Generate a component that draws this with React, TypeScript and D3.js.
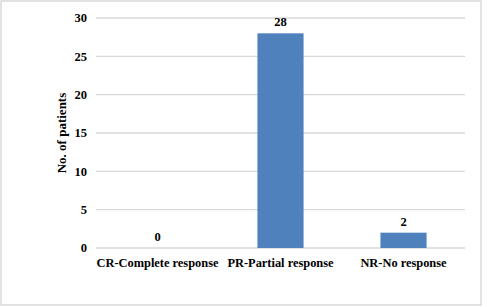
import React from "react";
import * as d3 from "d3";

const categories = ["CR-Complete response", "PR-Partial response", "NR-No response"];
const values = [0, 28, 2];
const yTicks = [0, 5, 10, 15, 20, 25, 30];
const yLabel = "No. of patients";

const W = 488;
const H = 307;
const m = { left: 96, right: 23, top: 18, bottom: 59 };
const FONT = "Liberation Serif";

const txt = (size: number): React.CSSProperties => ({
  fontFamily: FONT,
  fontWeight: "bold",
  fontSize: size,
});

export default function App() {
  const x = d3
    .scaleBand<string>()
    .domain(categories)
    .range([m.left, W - m.right])
    .paddingInner(0.625)
    .paddingOuter(0.3125);
  const y = d3.scaleLinear().domain([0, 30]).range([H - m.bottom, m.top]);

  return (
    <svg width={W} height={H} style={{ position: "absolute", left: 0, top: 0, background: "#fff" }}>
      <rect x={1} y={1} width={480} height={304} fill="#fff" stroke="#d9d9d9" strokeWidth={1.5} />
      {yTicks.map((t) => (
        <g key={t}>
          <line x1={m.left} x2={W - m.right} y1={y(t)} y2={y(t)} stroke="#d9d9d9" strokeWidth={1.3} />
          <text x={87} y={y(t)} dy="0.35em" textAnchor="end" style={txt(12.5)} fill="#000">
            {t}
          </text>
        </g>
      ))}
      {categories.map((c, i) => {
        const bx = x(c)!;
        const cx = bx + x.bandwidth() / 2;
        return (
          <g key={c}>
            {values[i] > 0 && (
              <rect x={bx} y={y(values[i])} width={x.bandwidth()} height={y(0) - y(values[i])} fill="#4f81bd" />
            )}
            <text x={cx} y={y(values[i]) - 7} textAnchor="middle" style={txt(12.5)} fill="#000">
              {values[i]}
            </text>
            <text x={cx} y={266.5} textAnchor="middle" style={txt(12.4)} fill="#000">
              {c}
            </text>
          </g>
        );
      })}
      <text
        transform={`translate(66,${(y(0) + y(30)) / 2}) rotate(-90)`}
        textAnchor="middle"
        style={txt(13)}
        fill="#000"
      >
        {yLabel}
      </text>
    </svg>
  );
}
